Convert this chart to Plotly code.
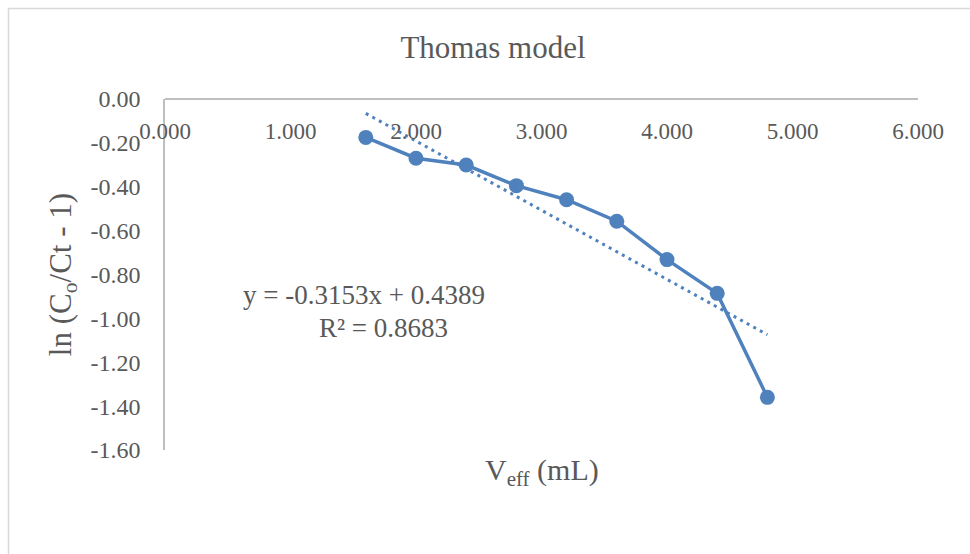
import plotly.graph_objects as go

# Effluent volume (mL) and linearised Thomas-model response
v_eff = [1.6, 2.0, 2.4, 2.8, 3.2, 3.6, 4.0, 4.4, 4.8]
ln_ratio = [-0.175, -0.270, -0.301, -0.395, -0.459, -0.557, -0.732, -0.886, -1.360]

# Linear trendline coefficients reported on the chart
slope = -0.3153
intercept = 0.4389
r_squared = 0.8683

x_ticks = [0, 1, 2, 3, 4, 5, 6]
y_ticks = [0.0, -0.2, -0.4, -0.6, -0.8, -1.0, -1.2, -1.4, -1.6]

BLUE = "#4F81BD"
TEXT = "#595959"
AXIS = "#BFBFBF"
FONT = "Liberation Serif"

W, H = 970, 554
ML, MR, MT, MB = 165, 52, 99, 104
PW, PH = W - ML - MR, H - MT - MB

trend_x = [v_eff[0], v_eff[-1]]
trend_y = [slope * x + intercept for x in trend_x]

fig = go.Figure()
fig.add_trace(go.Scatter(
    x=v_eff, y=ln_ratio, mode="lines+markers",
    line=dict(color=BLUE, width=3.5),
    marker=dict(color=BLUE, size=15),
    showlegend=False, hoverinfo="x+y",
))
fig.add_trace(go.Scatter(
    x=trend_x, y=trend_y, mode="lines",
    line=dict(color=BLUE, width=3, dash="3px,4.5px"),
    showlegend=False, hoverinfo="skip",
))


def px_to_paper_x(px):
    return (px - ML) / PW


def px_to_paper_y(py):
    return (H - MB - py) / PH


fig.update_layout(
    width=W, height=H,
    margin=dict(l=ML, r=MR, t=MT, b=MB),
    paper_bgcolor="white", plot_bgcolor="white",
    font=dict(family=FONT, color=TEXT, size=22),
    title=dict(
        text="Thomas model", font=dict(family=FONT, size=31, color=TEXT),
        x=493 / W, xanchor="center", xref="container",
        y=1 - 47 / H, yanchor="middle", yref="container",
    ),
    xaxis=dict(
        range=[0, 6], tickvals=x_ticks,
        ticktext=[f"{v:.3f}" for v in x_ticks],
        showgrid=False, zeroline=False,
        showline=True, linecolor=AXIS, linewidth=1.5,
        anchor="free", position=1, side="bottom",
        ticks="", ticklabelstandoff=12,
        tickfont=dict(family=FONT, size=23, color=TEXT),
    ),
    yaxis=dict(
        range=[-1.6, 0], tickvals=y_ticks,
        ticktext=[f"{v:.2f}" for v in y_ticks],
        showgrid=False, zeroline=False,
        showline=True, linecolor=AXIS, linewidth=1.5,
        ticks="", ticklabelstandoff=18,
        tickfont=dict(family=FONT, size=24, color=TEXT),
        title=dict(text="ln (C<sub>o</sub>/Ct - 1)", standoff=10,
                   font=dict(family=FONT, size=31, color=TEXT)),
    ),
    shapes=[dict(
        type="rect", xref="paper", yref="paper",
        x0=px_to_paper_x(8.5), x1=px_to_paper_x(W + 20),
        y0=px_to_paper_y(H + 20), y1=px_to_paper_y(8.5),
        line=dict(color="#D9D9D9", width=1.5), fillcolor="rgba(0,0,0,0)",
        layer="below",
    )],
    annotations=[
        dict(text="V<sub>eff</sub> (mL)", xref="paper", yref="paper",
             x=0.5, y=px_to_paper_y(472),
             xanchor="center", yanchor="middle", showarrow=False,
             font=dict(family=FONT, size=30, color=TEXT)),
        dict(text=f"y = {slope:.4f}x + {intercept:.4f}", xref="paper", yref="paper",
             x=px_to_paper_x(364), y=px_to_paper_y(295),
             xanchor="center", yanchor="middle", showarrow=False,
             font=dict(family=FONT, size=27, color=TEXT)),
        dict(text=f"R² = {r_squared:.4f}", xref="paper", yref="paper",
             x=px_to_paper_x(383), y=px_to_paper_y(328),
             xanchor="center", yanchor="middle", showarrow=False,
             font=dict(family=FONT, size=27, color=TEXT)),
    ],
)

fig.write_html("out.html")
